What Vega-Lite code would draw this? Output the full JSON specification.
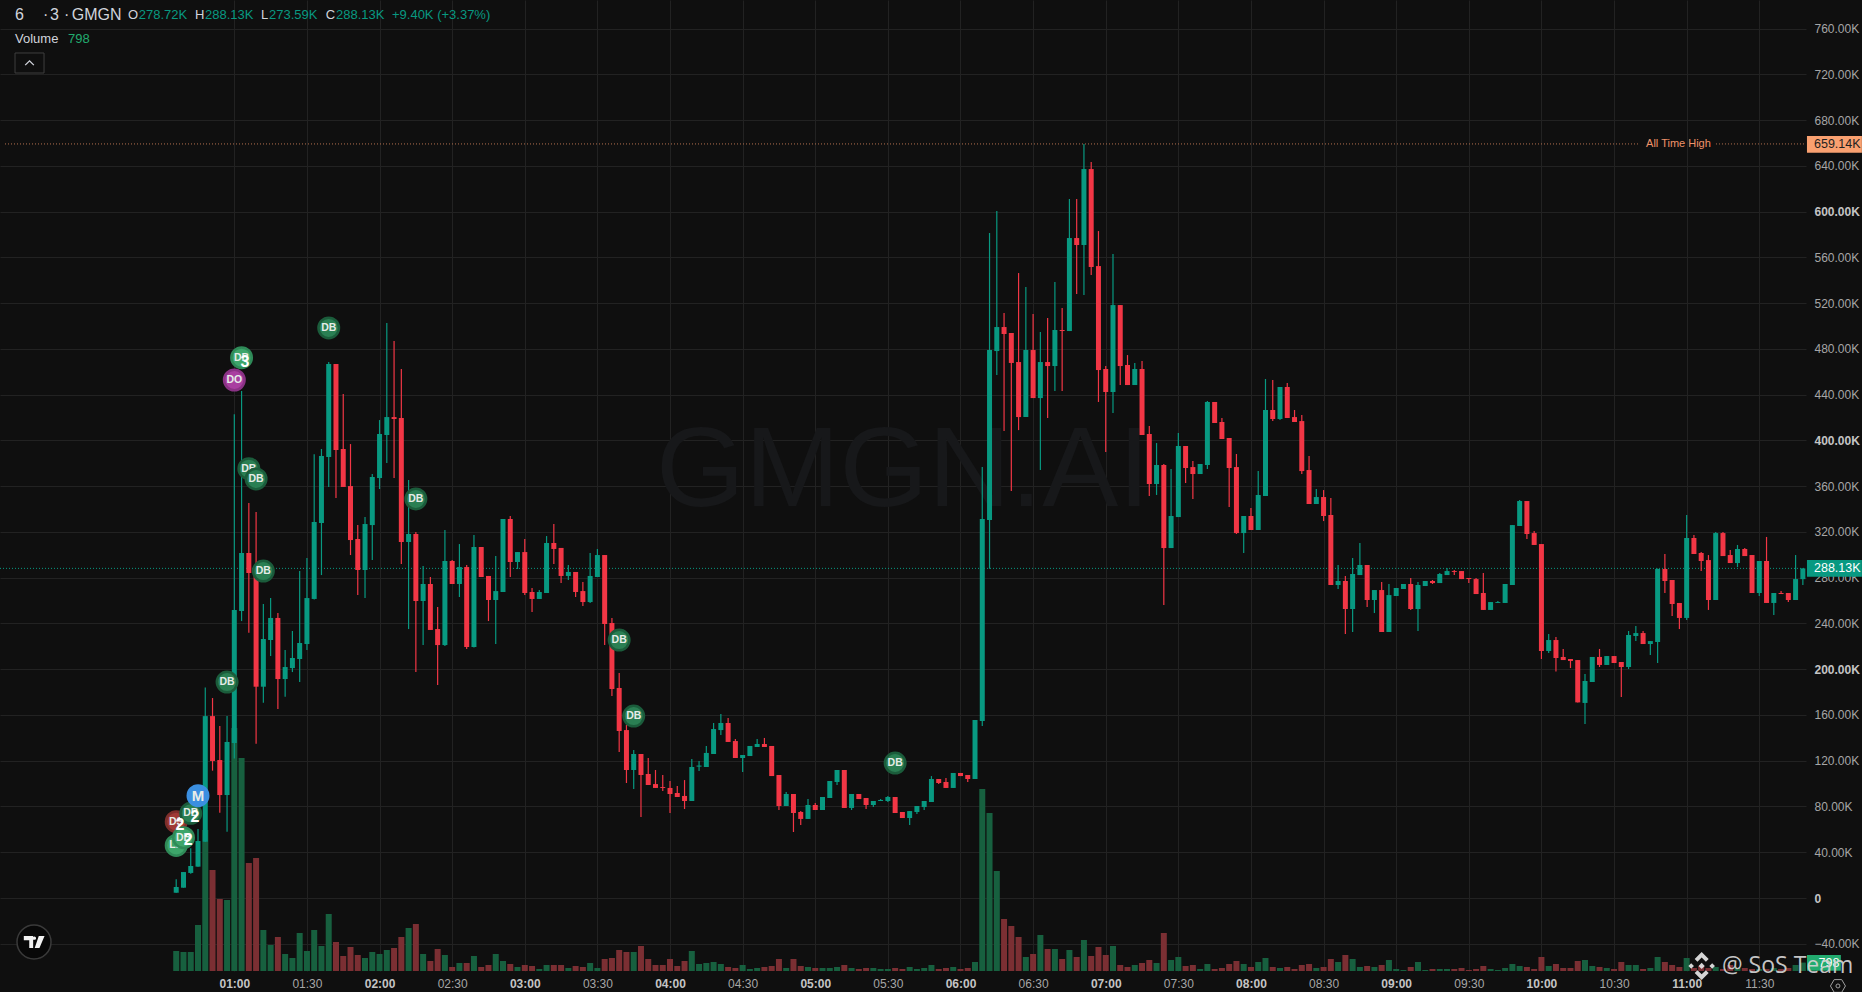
{"$schema":"https://vega.github.io/schema/vega-lite/v6.json","width":1806,"height":971,"autosize":{"type":"none"},"padding":{"left":0,"top":0,"right":56,"bottom":21},"background":"#0f0f0f","config":{"view":{"stroke":null},"font":"Liberation Sans","axis":{"domain":false,"ticks":false,"gridColor":"#222222","gridWidth":1,"labelFont":"Liberation Sans","labelFontSize":12,"labelColor":"#a6a6a6","title":null,"labelOverlap":false,"labelBound":false,"labelFlush":false}},
"datasets":{
"candles":[
{"t":"2025-01-01T00:36Z","o":4.6,"h":16.3,"l":4.6,"c":9.6,"v":1900},
{"t":"2025-01-01T00:39Z","o":9,"h":22.7,"l":9,"c":22.7,"v":1805},
{"t":"2025-01-01T00:42Z","o":21.9,"h":43.4,"l":21.2,"c":28,"v":1805},
{"t":"2025-01-01T00:45Z","o":27.4,"h":60.3,"l":27.4,"c":49.8,"v":4370},
{"t":"2025-01-01T00:48Z","o":49.2,"h":184,"l":49,"c":159,"v":13395},
{"t":"2025-01-01T00:51Z","o":159,"h":174.8,"l":111.3,"c":119.8,"v":9595},
{"t":"2025-01-01T00:54Z","o":120.6,"h":150.3,"l":74.6,"c":90,"v":6840},
{"t":"2025-01-01T00:57Z","o":90,"h":159,"l":58,"c":136.4,"v":6745},
{"t":"2025-01-01T01:00Z","o":135.5,"h":422.8,"l":122,"c":251.7,"v":23085},
{"t":"2025-01-01T01:03Z","o":250.9,"h":443.2,"l":242.1,"c":301.6,"v":20235},
{"t":"2025-01-01T01:06Z","o":301.6,"h":345.3,"l":231.9,"c":284.1,"v":10260},
{"t":"2025-01-01T01:09Z","o":284,"h":337.4,"l":134.9,"c":184.7,"v":10735},
{"t":"2025-01-01T01:12Z","o":184.7,"h":257,"l":170.7,"c":226.4,"v":3895},
{"t":"2025-01-01T01:15Z","o":225.5,"h":262.2,"l":211.5,"c":244.8,"v":2470},
{"t":"2025-01-01T01:18Z","o":244.8,"h":249.1,"l":165.2,"c":191.4,"v":3230},
{"t":"2025-01-01T01:21Z","o":191.4,"h":216.8,"l":176,"c":201.9,"v":1615},
{"t":"2025-01-01T01:24Z","o":201,"h":233.4,"l":197.5,"c":209.8,"v":1235},
{"t":"2025-01-01T01:27Z","o":208.9,"h":285.8,"l":188.8,"c":222.9,"v":3610},
{"t":"2025-01-01T01:30Z","o":222,"h":297.2,"l":216.8,"c":262.2,"v":1900},
{"t":"2025-01-01T01:33Z","o":261.4,"h":388,"l":261,"c":328.7,"v":3895},
{"t":"2025-01-01T01:36Z","o":327.8,"h":392.5,"l":282.3,"c":386.4,"v":2375},
{"t":"2025-01-01T01:39Z","o":385.5,"h":468.5,"l":359.3,"c":466.8,"v":5415},
{"t":"2025-01-01T01:42Z","o":466.8,"h":466.8,"l":349.6,"c":391.6,"v":2755},
{"t":"2025-01-01T01:45Z","o":392.5,"h":440.6,"l":359.3,"c":359.3,"v":1425},
{"t":"2025-01-01T01:48Z","o":360.1,"h":396.8,"l":299.8,"c":312.9,"v":2280},
{"t":"2025-01-01T01:51Z","o":313.8,"h":326,"l":264.8,"c":286.7,"v":1520},
{"t":"2025-01-01T01:54Z","o":286.7,"h":333,"l":262.2,"c":326.9,"v":1235},
{"t":"2025-01-01T01:57Z","o":326,"h":370.6,"l":295.4,"c":368,"v":1805},
{"t":"2025-01-01T02:00Z","o":367.1,"h":417.8,"l":357.5,"c":405.6,"v":1615},
{"t":"2025-01-01T02:03Z","o":404.7,"h":502.6,"l":380.2,"c":420.4,"v":1995},
{"t":"2025-01-01T02:06Z","o":420.4,"h":486.9,"l":367.1,"c":418.7,"v":2185},
{"t":"2025-01-01T02:09Z","o":419.6,"h":462.4,"l":292,"c":311.2,"v":3230},
{"t":"2025-01-01T02:12Z","o":311.2,"h":365.4,"l":235.1,"c":318.2,"v":4085},
{"t":"2025-01-01T02:15Z","o":318.2,"h":319.9,"l":197.5,"c":259.6,"v":4465},
{"t":"2025-01-01T02:18Z","o":259.6,"h":290.2,"l":221.1,"c":274.5,"v":1615},
{"t":"2025-01-01T02:21Z","o":274.5,"h":280.6,"l":234.3,"c":234.3,"v":950},
{"t":"2025-01-01T02:24Z","o":235.1,"h":254.4,"l":186.2,"c":221.1,"v":2090},
{"t":"2025-01-01T02:27Z","o":221.1,"h":321.7,"l":220.3,"c":294.6,"v":1520},
{"t":"2025-01-01T02:30Z","o":294.6,"h":295.4,"l":274.5,"c":274.5,"v":380},
{"t":"2025-01-01T02:33Z","o":274.5,"h":309.4,"l":263.1,"c":289.3,"v":760},
{"t":"2025-01-01T02:36Z","o":289.3,"h":291.1,"l":217.7,"c":219.4,"v":760},
{"t":"2025-01-01T02:39Z","o":219.4,"h":317.3,"l":219,"c":306.8,"v":1425},
{"t":"2025-01-01T02:42Z","o":306.8,"h":306.8,"l":280.6,"c":280.6,"v":380},
{"t":"2025-01-01T02:45Z","o":281.5,"h":281.5,"l":242.1,"c":260.5,"v":570},
{"t":"2025-01-01T02:48Z","o":260.5,"h":299,"l":222,"c":268.3,"v":1615},
{"t":"2025-01-01T02:51Z","o":267.5,"h":331.3,"l":267.5,"c":331.3,"v":950},
{"t":"2025-01-01T02:54Z","o":331.3,"h":333.9,"l":280.6,"c":293.7,"v":665},
{"t":"2025-01-01T02:57Z","o":293.7,"h":302.4,"l":287.6,"c":302.4,"v":380},
{"t":"2025-01-01T03:00Z","o":302.4,"h":313.8,"l":264.8,"c":266.6,"v":570},
{"t":"2025-01-01T03:03Z","o":267.5,"h":271,"l":250,"c":261.4,"v":475},
{"t":"2025-01-01T03:06Z","o":261.4,"h":269.2,"l":261.4,"c":267.5,"v":190},
{"t":"2025-01-01T03:09Z","o":266.6,"h":316.4,"l":266.6,"c":310.3,"v":570},
{"t":"2025-01-01T03:12Z","o":310.3,"h":326.9,"l":292,"c":305.1,"v":570},
{"t":"2025-01-01T03:15Z","o":306,"h":306,"l":275.3,"c":281.5,"v":570},
{"t":"2025-01-01T03:18Z","o":281.5,"h":291.1,"l":278,"c":285,"v":285},
{"t":"2025-01-01T03:21Z","o":285,"h":285,"l":263.1,"c":267.5,"v":475},
{"t":"2025-01-01T03:24Z","o":268.3,"h":276.2,"l":255.2,"c":258.7,"v":380},
{"t":"2025-01-01T03:27Z","o":258.7,"h":301.6,"l":257.9,"c":281.5,"v":760},
{"t":"2025-01-01T03:30Z","o":280.6,"h":305.1,"l":280.6,"c":299.8,"v":285},
{"t":"2025-01-01T03:33Z","o":299.8,"h":299.8,"l":221.1,"c":239.5,"v":1140},
{"t":"2025-01-01T03:36Z","o":240.4,"h":244.8,"l":176.6,"c":182.7,"v":1235},
{"t":"2025-01-01T03:39Z","o":183.6,"h":196.7,"l":127.6,"c":146,"v":1995},
{"t":"2025-01-01T03:42Z","o":146.8,"h":151.2,"l":100.5,"c":111.9,"v":1805},
{"t":"2025-01-01T03:45Z","o":111.9,"h":129.4,"l":95.3,"c":125.9,"v":1805},
{"t":"2025-01-01T03:48Z","o":125.9,"h":125.9,"l":70.8,"c":107.5,"v":2375},
{"t":"2025-01-01T03:51Z","o":108.4,"h":122.4,"l":98.8,"c":98.8,"v":1140},
{"t":"2025-01-01T03:54Z","o":99.6,"h":111.9,"l":96.2,"c":96.2,"v":570},
{"t":"2025-01-01T03:57Z","o":97,"h":107.5,"l":93.5,"c":96.2,"v":570},
{"t":"2025-01-01T04:00Z","o":96.2,"h":102.3,"l":74.3,"c":90.9,"v":1140},
{"t":"2025-01-01T04:03Z","o":91.8,"h":97.9,"l":88.3,"c":88.3,"v":475},
{"t":"2025-01-01T04:06Z","o":89.2,"h":103.1,"l":77.8,"c":84.8,"v":950},
{"t":"2025-01-01T04:09Z","o":84.8,"h":121.5,"l":84.8,"c":114.5,"v":1900},
{"t":"2025-01-01T04:12Z","o":114.8,"h":119.8,"l":111,"c":115.8,"v":665},
{"t":"2025-01-01T04:15Z","o":114.5,"h":132.9,"l":114.5,"c":126.8,"v":760},
{"t":"2025-01-01T04:18Z","o":125.9,"h":153,"l":125.9,"c":147.7,"v":855},
{"t":"2025-01-01T04:21Z","o":146.8,"h":160.8,"l":142.5,"c":153,"v":665},
{"t":"2025-01-01T04:24Z","o":153,"h":157.3,"l":136.4,"c":136.4,"v":380},
{"t":"2025-01-01T04:27Z","o":137.2,"h":139,"l":122.4,"c":122.4,"v":285},
{"t":"2025-01-01T04:30Z","o":122.4,"h":125,"l":110.1,"c":125,"v":570},
{"t":"2025-01-01T04:33Z","o":124.1,"h":132.9,"l":124.1,"c":132.9,"v":190},
{"t":"2025-01-01T04:36Z","o":132,"h":139,"l":132,"c":134.6,"v":285},
{"t":"2025-01-01T04:39Z","o":134.6,"h":139.9,"l":132,"c":132,"v":380},
{"t":"2025-01-01T04:42Z","o":132.9,"h":132.9,"l":106.6,"c":106.6,"v":475},
{"t":"2025-01-01T04:45Z","o":107.5,"h":107.5,"l":76.9,"c":80.4,"v":1140},
{"t":"2025-01-01T04:48Z","o":80.4,"h":92.7,"l":80.4,"c":90.9,"v":285},
{"t":"2025-01-01T04:51Z","o":90.9,"h":90.9,"l":57.7,"c":74.3,"v":1140},
{"t":"2025-01-01T04:54Z","o":75.2,"h":76,"l":63.8,"c":69.1,"v":475},
{"t":"2025-01-01T04:57Z","o":69.1,"h":86.5,"l":69.1,"c":81.3,"v":380},
{"t":"2025-01-01T05:00Z","o":81.3,"h":83,"l":76.9,"c":76.9,"v":285},
{"t":"2025-01-01T05:03Z","o":76.9,"h":88.3,"l":76.9,"c":88.3,"v":285},
{"t":"2025-01-01T05:06Z","o":87.4,"h":102.3,"l":87.4,"c":102.3,"v":285},
{"t":"2025-01-01T05:09Z","o":101.4,"h":111.9,"l":98.8,"c":111.9,"v":380},
{"t":"2025-01-01T05:12Z","o":111.9,"h":111.9,"l":78.7,"c":78.7,"v":570},
{"t":"2025-01-01T05:15Z","o":78.7,"h":90.9,"l":76.9,"c":90.9,"v":285},
{"t":"2025-01-01T05:18Z","o":90.9,"h":90.9,"l":86.5,"c":86.5,"v":190},
{"t":"2025-01-01T05:21Z","o":87.4,"h":87.4,"l":77.8,"c":81.3,"v":285},
{"t":"2025-01-01T05:24Z","o":81.3,"h":84.8,"l":79.5,"c":84.8,"v":285},
{"t":"2025-01-01T05:27Z","o":84.8,"h":86.5,"l":84.8,"c":85.7,"v":190},
{"t":"2025-01-01T05:30Z","o":84.8,"h":89.2,"l":83.9,"c":88.3,"v":190},
{"t":"2025-01-01T05:33Z","o":88.3,"h":88.3,"l":74.3,"c":74.3,"v":285},
{"t":"2025-01-01T05:36Z","o":75.2,"h":75.2,"l":69.9,"c":69.9,"v":190},
{"t":"2025-01-01T05:39Z","o":69.9,"h":76,"l":63.8,"c":76,"v":380},
{"t":"2025-01-01T05:42Z","o":75.2,"h":80.4,"l":73.4,"c":80.4,"v":190},
{"t":"2025-01-01T05:45Z","o":79.5,"h":84.8,"l":76.9,"c":84.8,"v":285},
{"t":"2025-01-01T05:48Z","o":83.9,"h":106.6,"l":83.9,"c":104,"v":570},
{"t":"2025-01-01T05:51Z","o":104,"h":104,"l":99.6,"c":100.5,"v":190},
{"t":"2025-01-01T05:54Z","o":101.4,"h":104.9,"l":96.2,"c":96.2,"v":285},
{"t":"2025-01-01T05:57Z","o":96.2,"h":109.3,"l":96.2,"c":109.3,"v":380},
{"t":"2025-01-01T06:00Z","o":109.3,"h":109.3,"l":106.6,"c":106.6,"v":190},
{"t":"2025-01-01T06:03Z","o":107.5,"h":107.5,"l":101.4,"c":104,"v":285},
{"t":"2025-01-01T06:06Z","o":104,"h":155.6,"l":104,"c":155.6,"v":855},
{"t":"2025-01-01T06:09Z","o":154.7,"h":376.7,"l":150.3,"c":331.3,"v":17290},
{"t":"2025-01-01T06:12Z","o":330.4,"h":581.3,"l":287.8,"c":479,"v":15010},
{"t":"2025-01-01T06:15Z","o":478.1,"h":600.5,"l":457.2,"c":499.1,"v":9500},
{"t":"2025-01-01T06:18Z","o":499.1,"h":511.4,"l":408.2,"c":493,"v":4940},
{"t":"2025-01-01T06:21Z","o":493.9,"h":493.9,"l":355.8,"c":467.7,"v":4275},
{"t":"2025-01-01T06:24Z","o":468.5,"h":546.3,"l":409,"c":420.4,"v":3230},
{"t":"2025-01-01T06:27Z","o":420.4,"h":534,"l":420.4,"c":479,"v":1330},
{"t":"2025-01-01T06:30Z","o":479,"h":510.5,"l":437,"c":437,"v":1615},
{"t":"2025-01-01T06:33Z","o":437,"h":494.7,"l":374.1,"c":468.5,"v":3420},
{"t":"2025-01-01T06:36Z","o":468.5,"h":507,"l":419.6,"c":465,"v":2090},
{"t":"2025-01-01T06:39Z","o":465,"h":538.4,"l":443.2,"c":496.5,"v":2090},
{"t":"2025-01-01T06:42Z","o":496.5,"h":515.7,"l":443.2,"c":495.6,"v":1140},
{"t":"2025-01-01T06:45Z","o":495.6,"h":611,"l":495.6,"c":576.9,"v":1995},
{"t":"2025-01-01T06:48Z","o":576.9,"h":611,"l":528,"c":570.8,"v":1330},
{"t":"2025-01-01T06:51Z","o":570.8,"h":659.1,"l":527.1,"c":637.2,"v":2945},
{"t":"2025-01-01T06:54Z","o":637.2,"h":643.3,"l":544.6,"c":551.6,"v":1425},
{"t":"2025-01-01T06:57Z","o":552.4,"h":583,"l":433.6,"c":461.5,"v":2280},
{"t":"2025-01-01T07:00Z","o":462.4,"h":465,"l":389.9,"c":442.3,"v":1520},
{"t":"2025-01-01T07:03Z","o":442.3,"h":562.9,"l":423.9,"c":518.3,"v":2375},
{"t":"2025-01-01T07:06Z","o":518.3,"h":518.3,"l":448.4,"c":465,"v":570},
{"t":"2025-01-01T07:09Z","o":465.9,"h":474.6,"l":448.4,"c":448.4,"v":380},
{"t":"2025-01-01T07:12Z","o":448.4,"h":467.7,"l":448.4,"c":462.4,"v":570},
{"t":"2025-01-01T07:15Z","o":462.4,"h":469.4,"l":404.7,"c":404.7,"v":760},
{"t":"2025-01-01T07:18Z","o":405.6,"h":412.6,"l":351.4,"c":361.9,"v":1045},
{"t":"2025-01-01T07:21Z","o":361.9,"h":397.7,"l":352.3,"c":378.5,"v":760},
{"t":"2025-01-01T07:24Z","o":378.5,"h":379.4,"l":256.1,"c":305.9,"v":3610},
{"t":"2025-01-01T07:27Z","o":305.9,"h":375,"l":305.9,"c":333.9,"v":1045},
{"t":"2025-01-01T07:30Z","o":333,"h":406.5,"l":333,"c":395.1,"v":1330},
{"t":"2025-01-01T07:33Z","o":395.1,"h":395.1,"l":362.8,"c":375.9,"v":475},
{"t":"2025-01-01T07:36Z","o":376.7,"h":382,"l":348.8,"c":370.6,"v":570},
{"t":"2025-01-01T07:39Z","o":370.6,"h":379.4,"l":370.6,"c":379.4,"v":190},
{"t":"2025-01-01T07:42Z","o":378.5,"h":434.4,"l":375,"c":433.6,"v":665},
{"t":"2025-01-01T07:45Z","o":433.6,"h":433.6,"l":415.2,"c":415.2,"v":190},
{"t":"2025-01-01T07:48Z","o":416.1,"h":419.6,"l":401.2,"c":401.2,"v":285},
{"t":"2025-01-01T07:51Z","o":402.1,"h":402.1,"l":341.8,"c":375.9,"v":665},
{"t":"2025-01-01T07:54Z","o":376.7,"h":388.1,"l":318.2,"c":319,"v":950},
{"t":"2025-01-01T07:57Z","o":319,"h":333.9,"l":301.6,"c":333.9,"v":665},
{"t":"2025-01-01T08:00Z","o":333.9,"h":340.9,"l":321.7,"c":321.7,"v":380},
{"t":"2025-01-01T08:03Z","o":321.7,"h":373.2,"l":321.7,"c":352.3,"v":855},
{"t":"2025-01-01T08:06Z","o":351.4,"h":453.7,"l":351.4,"c":426.6,"v":1235},
{"t":"2025-01-01T08:09Z","o":426.6,"h":452.8,"l":417,"c":418.7,"v":380},
{"t":"2025-01-01T08:12Z","o":418.7,"h":446.7,"l":417.8,"c":446.7,"v":285},
{"t":"2025-01-01T08:15Z","o":446.7,"h":450.2,"l":419.6,"c":419.6,"v":380},
{"t":"2025-01-01T08:18Z","o":420.4,"h":426.6,"l":416.1,"c":416.1,"v":190},
{"t":"2025-01-01T08:21Z","o":416.9,"h":422.2,"l":370.6,"c":373.2,"v":570},
{"t":"2025-01-01T08:24Z","o":374.1,"h":386.4,"l":344.4,"c":344.4,"v":665},
{"t":"2025-01-01T08:27Z","o":344.4,"h":357.5,"l":344.4,"c":350.5,"v":285},
{"t":"2025-01-01T08:30Z","o":350.5,"h":356.6,"l":329.5,"c":333.9,"v":380},
{"t":"2025-01-01T08:33Z","o":334.8,"h":349.6,"l":273.6,"c":273.6,"v":1140},
{"t":"2025-01-01T08:36Z","o":273.6,"h":291.1,"l":270.1,"c":277.1,"v":855},
{"t":"2025-01-01T08:39Z","o":277.1,"h":281.5,"l":230.8,"c":252.6,"v":1520},
{"t":"2025-01-01T08:42Z","o":252.6,"h":297.2,"l":232.5,"c":283.2,"v":1140},
{"t":"2025-01-01T08:45Z","o":282.3,"h":310.3,"l":282.3,"c":291.1,"v":380},
{"t":"2025-01-01T08:48Z","o":291.1,"h":291.1,"l":254.4,"c":260.5,"v":475},
{"t":"2025-01-01T08:51Z","o":260.5,"h":269.2,"l":249.1,"c":269.2,"v":380},
{"t":"2025-01-01T08:54Z","o":269.2,"h":276.2,"l":232.5,"c":232.5,"v":570},
{"t":"2025-01-01T08:57Z","o":232.5,"h":274.5,"l":232.5,"c":264.8,"v":1045},
{"t":"2025-01-01T09:00Z","o":264,"h":271,"l":264,"c":271,"v":190},
{"t":"2025-01-01T09:03Z","o":270.1,"h":274.5,"l":270.1,"c":274.5,"v":95},
{"t":"2025-01-01T09:06Z","o":274.5,"h":279.7,"l":251.8,"c":252.6,"v":380},
{"t":"2025-01-01T09:09Z","o":252.6,"h":276.2,"l":233.4,"c":273.6,"v":855},
{"t":"2025-01-01T09:12Z","o":272.7,"h":277.1,"l":272.7,"c":277.1,"v":95},
{"t":"2025-01-01T09:15Z","o":277.1,"h":278,"l":274.5,"c":275.3,"v":190},
{"t":"2025-01-01T09:18Z","o":275.3,"h":284.1,"l":275.3,"c":283.2,"v":190},
{"t":"2025-01-01T09:21Z","o":282.3,"h":288.5,"l":282.3,"c":285.8,"v":190},
{"t":"2025-01-01T09:24Z","o":285.8,"h":286.7,"l":282.3,"c":285,"v":190},
{"t":"2025-01-01T09:27Z","o":285.8,"h":285.8,"l":278.8,"c":278.8,"v":285},
{"t":"2025-01-01T09:30Z","o":279.7,"h":279.7,"l":275.3,"c":278.8,"v":95},
{"t":"2025-01-01T09:33Z","o":278.8,"h":279.7,"l":265.7,"c":265.7,"v":190},
{"t":"2025-01-01T09:36Z","o":266.6,"h":284.1,"l":251.8,"c":251.8,"v":475},
{"t":"2025-01-01T09:39Z","o":251.8,"h":258.7,"l":251.8,"c":258.7,"v":190},
{"t":"2025-01-01T09:42Z","o":257.9,"h":259.6,"l":257.9,"c":258.7,"v":95},
{"t":"2025-01-01T09:45Z","o":257.9,"h":274.5,"l":257.9,"c":274.5,"v":285},
{"t":"2025-01-01T09:48Z","o":273.6,"h":326,"l":273.6,"c":326,"v":665},
{"t":"2025-01-01T09:51Z","o":325.2,"h":347.9,"l":325.2,"c":347,"v":475},
{"t":"2025-01-01T09:54Z","o":347,"h":347,"l":313.8,"c":318.2,"v":380},
{"t":"2025-01-01T09:57Z","o":319,"h":320.8,"l":308.6,"c":308.6,"v":190},
{"t":"2025-01-01T10:00Z","o":309.4,"h":309.4,"l":208.9,"c":215.9,"v":1330},
{"t":"2025-01-01T10:03Z","o":215.9,"h":230.8,"l":214.2,"c":225.5,"v":475},
{"t":"2025-01-01T10:06Z","o":225.5,"h":228.1,"l":198,"c":209.8,"v":665},
{"t":"2025-01-01T10:09Z","o":210.7,"h":217.7,"l":208,"c":208,"v":285},
{"t":"2025-01-01T10:12Z","o":208.9,"h":208.9,"l":201,"c":207.2,"v":285},
{"t":"2025-01-01T10:15Z","o":208,"h":208,"l":171,"c":171,"v":950},
{"t":"2025-01-01T10:18Z","o":170.5,"h":195.8,"l":152.1,"c":189.7,"v":1045},
{"t":"2025-01-01T10:21Z","o":188.8,"h":210.7,"l":188.8,"c":210.7,"v":475},
{"t":"2025-01-01T10:24Z","o":210.7,"h":217.7,"l":201.9,"c":203.7,"v":380},
{"t":"2025-01-01T10:27Z","o":203.7,"h":211.5,"l":203.7,"c":211.5,"v":285},
{"t":"2025-01-01T10:30Z","o":211.5,"h":211.5,"l":205.4,"c":205.4,"v":190},
{"t":"2025-01-01T10:33Z","o":206.3,"h":206.3,"l":175.7,"c":201.9,"v":855},
{"t":"2025-01-01T10:36Z","o":201.9,"h":233.4,"l":200.2,"c":229.9,"v":570},
{"t":"2025-01-01T10:39Z","o":229,"h":237.8,"l":224.6,"c":231.6,"v":570},
{"t":"2025-01-01T10:42Z","o":231.6,"h":233.4,"l":222,"c":222,"v":190},
{"t":"2025-01-01T10:45Z","o":222,"h":224.6,"l":212.4,"c":224.6,"v":285},
{"t":"2025-01-01T10:48Z","o":223.8,"h":288,"l":205.4,"c":287.6,"v":1330},
{"t":"2025-01-01T10:51Z","o":287.6,"h":300.7,"l":266.6,"c":277.1,"v":855},
{"t":"2025-01-01T10:54Z","o":278,"h":278,"l":246.5,"c":257,"v":570},
{"t":"2025-01-01T10:57Z","o":257.9,"h":257.9,"l":235.1,"c":244.8,"v":380},
{"t":"2025-01-01T11:00Z","o":244.8,"h":334.8,"l":243,"c":314.7,"v":1235},
{"t":"2025-01-01T11:03Z","o":314.7,"h":317.3,"l":300.7,"c":300.7,"v":285},
{"t":"2025-01-01T11:06Z","o":301.6,"h":302.4,"l":285.8,"c":294.6,"v":475},
{"t":"2025-01-01T11:09Z","o":295.4,"h":299.8,"l":251.8,"c":260.5,"v":285},
{"t":"2025-01-01T11:12Z","o":260.5,"h":319.9,"l":260.5,"c":319,"v":380},
{"t":"2025-01-01T11:15Z","o":319,"h":319.9,"l":298.9,"c":298.9,"v":190},
{"t":"2025-01-01T11:18Z","o":299.8,"h":304.2,"l":292.8,"c":292.8,"v":570},
{"t":"2025-01-01T11:21Z","o":292.8,"h":308.6,"l":289.3,"c":305.1,"v":285},
{"t":"2025-01-01T11:24Z","o":305.1,"h":305.9,"l":298.9,"c":298.9,"v":285},
{"t":"2025-01-01T11:27Z","o":299.8,"h":299.8,"l":266.6,"c":266.6,"v":190},
{"t":"2025-01-01T11:30Z","o":266.6,"h":294.6,"l":264,"c":294.6,"v":190},
{"t":"2025-01-01T11:33Z","o":294.6,"h":315.6,"l":257.9,"c":257.9,"v":190},
{"t":"2025-01-01T11:36Z","o":257.9,"h":266.6,"l":247.4,"c":266.6,"v":285},
{"t":"2025-01-01T11:39Z","o":266.6,"h":268.3,"l":265.7,"c":265.7,"v":190},
{"t":"2025-01-01T11:42Z","o":266.6,"h":266.6,"l":258.7,"c":260.5,"v":285},
{"t":"2025-01-01T11:45Z","o":260.5,"h":299.8,"l":260.5,"c":278.8,"v":570},
{"t":"2025-01-01T11:48Z","o":278.72,"h":288.13,"l":273.59,"c":288.13,"v":798}
],
"m0":[{"t":"2025-01-01T00:36Z","p":66.7,"label":"DS","kind":"red"},{"t":"2025-01-01T00:36Z","p":46,"label":"LB","kind":"light"},{"t":"2025-01-01T01:06Z","p":375.3,"label":"DB","kind":"dark"}],
"m1":[{"t":"2025-01-01T00:42Z","p":74,"label":"DB","kind":"dark"},{"t":"2025-01-01T00:39Z","p":52.7,"label":"DB","kind":"light"}],
"m2":[{"t":"2025-01-01T00:45Z","p":89.4,"label":"M","kind":"blue"},{"t":"2025-01-01T01:03Z","p":472.3,"label":"DB","kind":"light"},{"t":"2025-01-01T01:00Z","p":452.8,"label":"DO","kind":"purple"},{"t":"2025-01-01T01:09Z","p":366.3,"label":"DB","kind":"dark"},{"t":"2025-01-01T01:12Z","p":285.8,"label":"DB","kind":"dark"},{"t":"2025-01-01T00:57Z","p":188.8,"label":"DB","kind":"dark"},{"t":"2025-01-01T01:39Z","p":498.3,"label":"DB","kind":"dark"},{"t":"2025-01-01T02:15Z","p":348.8,"label":"DB","kind":"dark"},{"t":"2025-01-01T03:39Z","p":225.5,"label":"DB","kind":"dark"},{"t":"2025-01-01T03:45Z","p":159,"label":"DB","kind":"dark"},{"t":"2025-01-01T05:33Z","p":118,"label":"DB","kind":"dark"}],
"counts":[{"t":"2025-01-01T01:04:24Z","p":468.8,"label":"3"},{"t":"2025-01-01T00:43:46Z","p":70.5,"label":"2"},{"t":"2025-01-01T00:41:00Z","p":50.7,"label":"2"},{"t":"2025-01-01T00:37:34Z","p":63.8,"label":"2"}],
"header":[
{"t":"2024-12-31T23:29:24Z","p":771.8,"text":"6","role":"title"},
{"t":"2024-12-31T23:40:58Z","p":771.8,"text":"·","role":"title"},
{"t":"2024-12-31T23:43:52Z","p":771.8,"text":"3","role":"title"},
{"t":"2024-12-31T23:49:38Z","p":771.8,"text":"·","role":"title"},
{"t":"2024-12-31T23:52:49Z","p":771.8,"text":"GMGN","role":"title"},
{"t":"2025-01-01T00:16:05Z","p":771.8,"text":"O","role":"key"},
{"t":"2025-01-01T00:20:30Z","p":771.8,"text":"278.72K","role":"val"},
{"t":"2025-01-01T00:43:46Z","p":771.8,"text":"H","role":"key"},
{"t":"2025-01-01T00:47:53Z","p":771.8,"text":"288.13K","role":"val"},
{"t":"2025-01-01T01:11:01Z","p":771.8,"text":"L","role":"key"},
{"t":"2025-01-01T01:14:20Z","p":771.8,"text":"273.59K","role":"val"},
{"t":"2025-01-01T01:37:45Z","p":771.8,"text":"C","role":"key"},
{"t":"2025-01-01T01:42:00Z","p":771.8,"text":"288.13K","role":"val"},
{"t":"2025-01-01T02:05:08Z","p":771.8,"text":"+9.40K (+3.37%)","role":"val"},
{"t":"2024-12-31T23:29:24Z","p":751.1,"text":"Volume","role":"key"},
{"t":"2024-12-31T23:51:17Z","p":751.1,"text":"798","role":"vol"}
],
"lines":[
{"t":"2024-12-31T23:25:16Z","t2":"2025-01-01T10:40:18Z","p":659.14,"kind":"ath"},
{"t":"2025-01-01T11:12:06Z","t2":"2025-01-01T11:49:18Z","p":659.14,"kind":"ath"},
{"t":"2024-12-31T23:23:12Z","t2":"2025-01-01T11:49:18Z","p":288.13,"kind":"last"}
],
"tags":[
{"t":"2025-01-01T11:49:42Z","t2":"2025-01-01T12:12:24Z","p":666.06,"p2":651.5,"kind":"ath"},
{"t":"2025-01-01T11:49:42Z","t2":"2025-01-01T12:12:24Z","p":295.4,"p2":280.8,"kind":"last"},
{"t":"2025-01-01T11:49:42Z","t2":"2025-01-01T12:03:42Z","p":-49.8,"p2":-63.5,"kind":"vol"}
],
"tagText":[
{"t":"2025-01-01T11:52:36Z","p":658.8,"text":"659.14K","kind":"ath"},
{"t":"2025-01-01T11:52:36Z","p":288.1,"text":"288.13K","kind":"last"},
{"t":"2025-01-01T11:54:30Z","p":-56.6,"text":"798","kind":"vol"}
]
},
"data":{"name":"candles"},
"encoding":{"x":{"field":"t","type":"temporal","scale":{"type":"utc","domain":[1735687392000,1735732158000],"nice":false,"padding":0},"axis":{"grid":true,"orient":"bottom","labelPadding":7,"values":[1735693200000,1735695000000,1735696800000,1735698600000,1735700400000,1735702200000,1735704000000,1735705800000,1735707600000,1735709400000,1735711200000,1735713000000,1735714800000,1735716600000,1735718400000,1735720200000,1735722000000,1735723800000,1735725600000,1735727400000,1735729200000,1735731000000],"labelExpr":"utcFormat(datum.value,'%H:%M')","labelFontWeight":{"condition":{"test":"utcminutes(datum.value)===0","value":"bold"},"value":"normal"},"labelColor":{"condition":{"test":"utcminutes(datum.value)===0","value":"#c4c4c4"},"value":"#a6a6a6"}}}},
"resolve":{"scale":{"y":"independent"},"axis":{"y":"independent"}},
"layer":[
{"mark":{"type":"bar","size":6},"encoding":{"y":{"field":"v","type":"quantitative","scale":{"domain":[0,92245],"nice":false},"axis":null},"color":{"condition":{"test":"datum.c>=datum.o","value":"#17603f"},"value":"#7b2f33"}}},
{"layer":[
{"data":{"values":[{"t":"2025-01-01T05:36:15Z","p":372.4,"text":"GMGN.AI"}]},"mark":{"type":"text","font":"Liberation Sans","fontSize":114,"color":"#17181a","align":"center","baseline":"middle"},"encoding":{"y":{"field":"p","type":"quantitative","scale":{"domain":[-63.81,784.97],"nice":false,"zero":false},"axis":{"orient":"right","grid":true,"labelPadding":8,"values":[-40,0,40,80,120,160,200,240,280,320,360,400,440,480,520,560,600,640,680,720,760],"labelExpr":"datum.value===0?'0':format(datum.value,'.2f')+'K'","labelFontWeight":{"condition":{"test":"datum.value%200===0","value":"bold"},"value":"normal"},"labelColor":{"condition":{"test":"datum.value%200===0","value":"#c4c4c4"},"value":"#a6a6a6"}}},"text":{"field":"text"}}},
{"data":{"name":"lines"},"mark":{"type":"rule","strokeWidth":1,"strokeDash":[1,2]},"encoding":{"x2":{"field":"t2"},"y":{"field":"p","type":"quantitative"},"color":{"condition":{"test":"datum.kind==='ath'","value":"#b5714f"},"value":"#089981"}}},
{"mark":{"type":"rule","strokeWidth":1.2},"encoding":{"y":{"field":"l","type":"quantitative"},"y2":{"field":"h"},"color":{"condition":{"test":"datum.c>=datum.o","value":"#089981"},"value":"#f23645"}}},
{"mark":{"type":"bar","size":5},"encoding":{"y":{"field":"o","type":"quantitative"},"y2":{"field":"c"},"color":{"condition":{"test":"datum.c>=datum.o","value":"#089981"},"value":"#f23645"}}},
{"data":{"name":"m0"},"mark":{"type":"point","shape":"circle","filled":true,"size":420,"strokeWidth":2.5,"opacity":1},"encoding":{"y":{"field":"p","type":"quantitative"},"fill":{"field":"kind","type":"nominal","scale":{"domain":["dark","light","purple","red","blue"],"range":["#2a7f53","#3da56a","#a93fa0","#9f3a36","#3b8fe0"]},"legend":null},"stroke":{"field":"kind","type":"nominal","scale":{"domain":["dark","light","purple","red","blue"],"range":["#1b5c3b","#2f8a58","#8a3285","#7d2e2b","#3b8fe0"]},"legend":null}}},
{"data":{"name":"m0"},"mark":{"type":"text","font":"Liberation Sans","fontWeight":"bold","fontSize":10.5,"color":"#e6ece8","align":"center","baseline":"middle"},"encoding":{"y":{"field":"p","type":"quantitative"},"text":{"field":"label"}}},
{"data":{"name":"m1"},"mark":{"type":"point","shape":"circle","filled":true,"size":420,"strokeWidth":2.5,"opacity":1},"encoding":{"y":{"field":"p","type":"quantitative"},"fill":{"field":"kind","type":"nominal","legend":null},"stroke":{"field":"kind","type":"nominal","legend":null}}},
{"data":{"name":"m1"},"mark":{"type":"text","font":"Liberation Sans","fontWeight":"bold","fontSize":10.5,"color":"#e6ece8","align":"center","baseline":"middle"},"encoding":{"y":{"field":"p","type":"quantitative"},"text":{"field":"label"}}},
{"data":{"name":"m2"},"mark":{"type":"point","shape":"circle","filled":true,"size":420,"strokeWidth":2.5,"opacity":1},"encoding":{"y":{"field":"p","type":"quantitative"},"fill":{"field":"kind","type":"nominal","legend":null},"stroke":{"field":"kind","type":"nominal","legend":null}}},
{"data":{"name":"m2"},"mark":{"type":"text","font":"Liberation Sans","fontWeight":"bold","color":"#e6ece8","align":"center","baseline":"middle"},"encoding":{"y":{"field":"p","type":"quantitative"},"text":{"field":"label"},"size":{"condition":{"test":"datum.label==='M'","value":15},"value":10.5}}},
{"data":{"name":"counts"},"mark":{"type":"text","font":"Liberation Sans","fontWeight":"bold","fontSize":16,"color":"#ffffff","align":"center","baseline":"middle"},"encoding":{"y":{"field":"p","type":"quantitative"},"text":{"field":"label"}}},
{"data":{"name":"tags"},"mark":{"type":"rect"},"encoding":{"x2":{"field":"t2"},"y":{"field":"p","type":"quantitative"},"y2":{"field":"p2"},"color":{"condition":[{"test":"datum.kind==='ath'","value":"#f9a070"},{"test":"datum.kind==='last'","value":"#089981"}],"value":"#22ab6f"}}},
{"data":{"name":"tagText"},"mark":{"type":"text","font":"Liberation Sans","fontSize":12.5,"align":"left","baseline":"middle"},"encoding":{"y":{"field":"p","type":"quantitative"},"text":{"field":"text"},"color":{"condition":{"test":"datum.kind==='ath'","value":"#1f1f1f"},"value":"#ffffff"}}},
{"data":{"values":[{"t":"2025-01-01T10:56:36Z","p":659.14,"text":"All Time High"}]},"mark":{"type":"text","font":"Liberation Sans","fontSize":11,"color":"#f0936a","align":"center","baseline":"middle"},"encoding":{"y":{"field":"p","type":"quantitative"},"text":{"field":"text"}}},
{"data":{"name":"header"},"mark":{"type":"text","font":"Liberation Sans","align":"left","baseline":"middle"},"encoding":{"y":{"field":"p","type":"quantitative"},"text":{"field":"text"},"size":{"condition":{"test":"datum.role==='title'","value":16},"value":13},"color":{"condition":[{"test":"datum.role==='val'","value":"#089981"},{"test":"datum.role==='vol'","value":"#22ab6f"}],"value":"#d1d4dc"}}},
{"data":{"values":[{"t":"2024-12-31T23:35:24Z","p":729.9,"name":"button"}]},"mark":{"type":"point","shape":"M-1,-0.69H1V0.69H-1Z","size":841,"stroke":"#3f3f3f","strokeWidth":1,"fill":"#0f0f0f","filled":false,"opacity":1},"encoding":{"y":{"field":"p","type":"quantitative"}}},
{"data":{"values":[{"t":"2024-12-31T23:35:24Z","p":729.9,"name":"chevron"}]},"mark":{"type":"point","shape":"M-0.5,0.25L0,-0.25L0.5,0.25","size":300,"stroke":"#d1d4dc","strokeWidth":1.3,"filled":false,"opacity":1},"encoding":{"y":{"field":"p","type":"quantitative"}}},
{"data":{"values":[{"t":"2024-12-31T23:37:15Z","p":-38.5,"name":"tv"}]},"mark":{"type":"point","shape":"circle","size":1156,"fill":"#080808","stroke":"#3a3a3a","strokeWidth":1.5,"filled":true,"opacity":1},"encoding":{"y":{"field":"p","type":"quantitative"}}},
{"data":{"values":[{"t":"2024-12-31T23:37:15Z","p":-38.5,"name":"tvglyph"}]},"mark":{"type":"point","shape":"M-0.6,-0.35H-0.05V0.35H-0.28V-0.1H-0.6ZM0.02,-0.33A0.1,0.1 0 1 1 0.02,-0.13A0.1,0.1 0 1 1 0.02,-0.33ZM0.28,-0.35H0.62L0.32,0.35H0.04Z","size":1156,"fill":"#f2f2f2","filled":true,"strokeWidth":0,"opacity":1},"encoding":{"y":{"field":"p","type":"quantitative"}}},
{"data":{"values":[{"t":"2025-01-01T12:02:30Z","p":-76.9,"name":"settings"}]},"mark":{"type":"point","shape":"M-1,0L-0.5,-0.85L0.5,-0.85L1,0L0.5,0.85L-0.5,0.85Z","size":225,"stroke":"#a0a0a0","strokeWidth":1,"filled":false,"opacity":1},"encoding":{"y":{"field":"p","type":"quantitative"}}},
{"data":{"values":[{"t":"2025-01-01T12:02:30Z","p":-76.9,"name":"settingsdot"}]},"mark":{"type":"point","shape":"circle","size":16,"stroke":"#a0a0a0","strokeWidth":1,"filled":false,"opacity":1},"encoding":{"y":{"field":"p","type":"quantitative"}}},
{"data":{"values":[{"t":"2025-01-01T11:06:12Z","p":-59.4,"name":"logo"}]},"mark":{"type":"point","shape":"M0,-1L0.5,-0.5L0.3,-0.3L0,-0.6L-0.3,-0.3L-0.5,-0.5ZM0,1L0.5,0.5L0.3,0.3L0,0.6L-0.3,0.3L-0.5,0.5ZM0,-0.22L0.22,0L0,0.22L-0.22,0ZM-0.75,-0.2L-0.55,0L-0.75,0.2L-0.95,0ZM0.75,-0.2L0.95,0L0.75,0.2L0.55,0Z","size":784,"fill":"#e6e6e6","filled":true,"strokeWidth":0,"opacity":0.92},"encoding":{"y":{"field":"p","type":"quantitative"}}},
{"data":{"values":[{"t":"2025-01-01T11:14:36Z","p":-59.4,"text":"@ SoS Team"}]},"mark":{"type":"text","font":"Open Sans","fontSize":23,"color":"#d4d4d4","opacity":0.92,"align":"left","baseline":"middle"},"encoding":{"y":{"field":"p","type":"quantitative"},"text":{"field":"text"}}}
]}
]}
